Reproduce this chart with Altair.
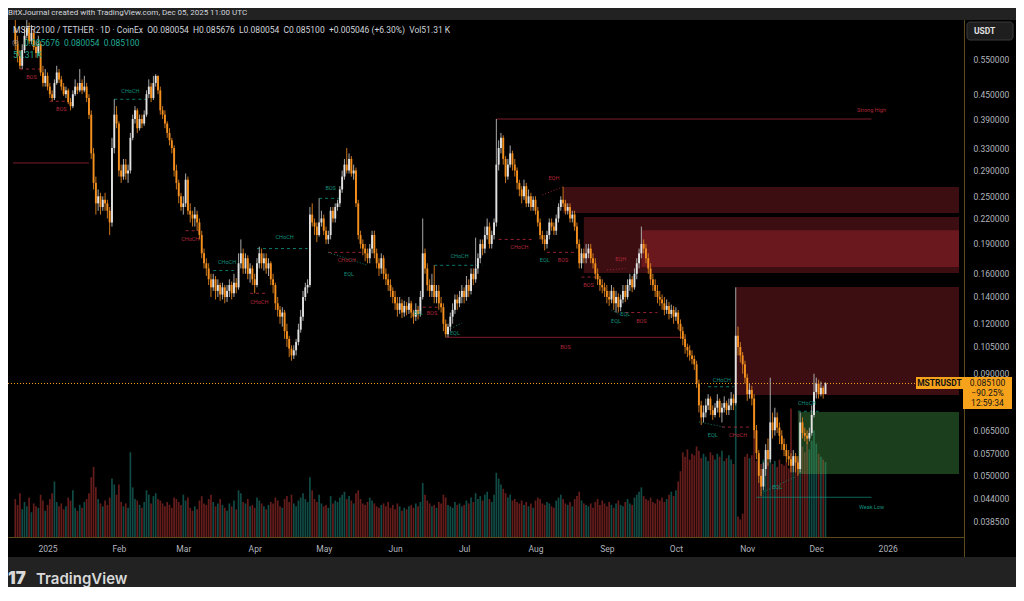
import altair as alt
import pandas as pd

# ---------------- daily candles, MSTR2100 / TETHER (CoinEx), from 2024-12-18 ----------------
first_day = "2024-12-18"
first_open = 0.66

closes = [
    0.60, 0.56, 0.53, 0.58, 0.63, 0.66, 0.61, 0.64, 0.59, 0.57,
    0.60, 0.51, 0.48, 0.50, 0.47, 0.45, 0.44, 0.48, 0.51, 0.49,
    0.47, 0.45, 0.46, 0.43, 0.42, 0.45, 0.47, 0.46, 0.48, 0.46,
    0.47, 0.44, 0.40, 0.32, 0.27, 0.24, 0.25, 0.235, 0.245, 0.24,
    0.23, 0.215, 0.33, 0.40, 0.38, 0.29, 0.28, 0.30, 0.285, 0.29,
    0.35, 0.39, 0.41, 0.37, 0.39, 0.38, 0.40, 0.45, 0.47, 0.44,
    0.48, 0.50, 0.46, 0.41, 0.40, 0.38, 0.36, 0.345, 0.33, 0.29,
    0.27, 0.25, 0.235, 0.24, 0.275, 0.23, 0.225, 0.22, 0.225, 0.215,
    0.20, 0.18, 0.17, 0.165, 0.155, 0.148, 0.155, 0.145, 0.15, 0.142,
    0.148, 0.14, 0.145, 0.15, 0.143, 0.152, 0.148, 0.17, 0.18, 0.165,
    0.175, 0.16, 0.165, 0.155, 0.15, 0.17, 0.18, 0.17, 0.175, 0.165,
    0.17, 0.155, 0.15, 0.135, 0.13, 0.125, 0.128, 0.115, 0.11, 0.104,
    0.10, 0.103, 0.108, 0.116, 0.125, 0.14, 0.148, 0.15, 0.225, 0.215,
    0.21, 0.20, 0.215, 0.22, 0.205, 0.195, 0.20, 0.23, 0.22, 0.235,
    0.24, 0.26, 0.28, 0.30, 0.29, 0.31, 0.285, 0.29, 0.24, 0.20,
    0.19, 0.185, 0.18, 0.175, 0.185, 0.20, 0.18, 0.17, 0.165, 0.175,
    0.16, 0.155, 0.15, 0.145, 0.14, 0.135, 0.13, 0.135, 0.128, 0.133,
    0.13, 0.135, 0.128, 0.125, 0.13, 0.127, 0.14, 0.18, 0.165, 0.15,
    0.145, 0.15, 0.14, 0.145, 0.135, 0.132, 0.12, 0.113, 0.118, 0.125,
    0.13, 0.138, 0.135, 0.14, 0.145, 0.14, 0.15, 0.145, 0.16, 0.155,
    0.165, 0.175, 0.19, 0.185, 0.20, 0.21, 0.19, 0.20, 0.215, 0.30,
    0.33, 0.35, 0.31, 0.28, 0.30, 0.32, 0.30, 0.29, 0.27, 0.26,
    0.25, 0.265, 0.24, 0.25, 0.235, 0.245, 0.23, 0.215, 0.20, 0.195,
    0.19, 0.20, 0.215, 0.21, 0.205, 0.22, 0.235, 0.245, 0.24, 0.23,
    0.235, 0.22, 0.225, 0.21, 0.19, 0.17, 0.18, 0.175, 0.18, 0.185,
    0.175, 0.17, 0.16, 0.155, 0.15, 0.148, 0.145, 0.14, 0.138, 0.145,
    0.135, 0.14, 0.132, 0.138, 0.145, 0.14, 0.15, 0.155, 0.148, 0.16,
    0.17, 0.18, 0.19, 0.185, 0.175, 0.165, 0.155, 0.15, 0.145, 0.14,
    0.138, 0.135, 0.13, 0.133, 0.127, 0.13, 0.125, 0.128, 0.12, 0.115,
    0.11, 0.105, 0.103, 0.10, 0.098, 0.095, 0.085, 0.075, 0.07, 0.072,
    0.075, 0.078, 0.073, 0.071, 0.074, 0.077, 0.072, 0.074, 0.076, 0.073,
    0.075, 0.078, 0.076, 0.112, 0.105, 0.10, 0.095, 0.088, 0.08, 0.082,
    0.078, 0.065, 0.057, 0.05, 0.047, 0.052, 0.058, 0.055, 0.068, 0.065,
    0.07, 0.066, 0.063, 0.06, 0.058, 0.056, 0.055, 0.053, 0.056, 0.054,
    0.052, 0.068, 0.064, 0.063, 0.062, 0.064, 0.071, 0.081, 0.085, 0.08,
    0.083, 0.080054, 0.0851,
]

highs = [
    0.70, 0.63, 0.58, 0.60, 0.66, 0.72, 0.68, 0.67, 0.65, 0.61,
    0.63, 0.61, 0.53, 0.52, 0.51, 0.48, 0.46, 0.49, 0.53, 0.52,
    0.50, 0.48, 0.47, 0.465, 0.44, 0.46, 0.49, 0.48, 0.52, 0.49,
    0.50, 0.48, 0.45, 0.41, 0.33, 0.28, 0.26, 0.255, 0.25, 0.255,
    0.245, 0.235, 0.35, 0.437, 0.42, 0.385, 0.30, 0.31, 0.31, 0.30,
    0.36, 0.40, 0.42, 0.415, 0.40, 0.40, 0.41, 0.46, 0.49, 0.48,
    0.50, 0.505, 0.50, 0.47, 0.42, 0.41, 0.385, 0.37, 0.35, 0.335,
    0.30, 0.275, 0.255, 0.25, 0.285, 0.28, 0.24, 0.23, 0.235, 0.23,
    0.22, 0.205, 0.185, 0.175, 0.17, 0.16, 0.16, 0.158, 0.155, 0.152,
    0.152, 0.15, 0.15, 0.155, 0.153, 0.16, 0.156, 0.18, 0.195, 0.185,
    0.18, 0.178, 0.17, 0.168, 0.16, 0.175, 0.187, 0.185, 0.18, 0.18,
    0.175, 0.172, 0.16, 0.152, 0.14, 0.133, 0.132, 0.13, 0.12, 0.112,
    0.106, 0.106, 0.11, 0.12, 0.13, 0.145, 0.152, 0.155, 0.235, 0.24,
    0.22, 0.215, 0.247, 0.23, 0.225, 0.21, 0.205, 0.235, 0.235, 0.24,
    0.245, 0.265, 0.29, 0.31, 0.33, 0.32, 0.315, 0.30, 0.295, 0.245,
    0.205, 0.195, 0.19, 0.185, 0.19, 0.205, 0.205, 0.185, 0.175, 0.18,
    0.178, 0.165, 0.16, 0.155, 0.148, 0.145, 0.14, 0.14, 0.138, 0.137,
    0.136, 0.14, 0.137, 0.13, 0.135, 0.133, 0.145, 0.22, 0.185, 0.17,
    0.155, 0.16, 0.168, 0.15, 0.15, 0.14, 0.135, 0.123, 0.12, 0.128,
    0.135, 0.142, 0.142, 0.145, 0.15, 0.148, 0.158, 0.155, 0.165, 0.165,
    0.197, 0.18, 0.195, 0.195, 0.21, 0.22, 0.215, 0.205, 0.22, 0.39,
    0.345, 0.36, 0.355, 0.315, 0.31, 0.335, 0.325, 0.31, 0.295, 0.275,
    0.265, 0.275, 0.27, 0.26, 0.255, 0.25, 0.25, 0.235, 0.22, 0.205,
    0.20, 0.205, 0.22, 0.22, 0.215, 0.225, 0.24, 0.25, 0.264, 0.245,
    0.24, 0.24, 0.23, 0.23, 0.215, 0.195, 0.185, 0.185, 0.19, 0.19,
    0.19, 0.18, 0.175, 0.165, 0.158, 0.155, 0.152, 0.15, 0.145, 0.15,
    0.148, 0.145, 0.143, 0.142, 0.15, 0.15, 0.155, 0.16, 0.158, 0.165,
    0.175, 0.185, 0.21, 0.195, 0.19, 0.18, 0.17, 0.16, 0.155, 0.15,
    0.145, 0.142, 0.14, 0.138, 0.136, 0.134, 0.133, 0.132, 0.13, 0.123,
    0.118, 0.113, 0.107, 0.106, 0.103, 0.10, 0.097, 0.087, 0.077, 0.075,
    0.078, 0.08, 0.079, 0.075, 0.076, 0.08, 0.078, 0.076, 0.079, 0.077,
    0.078, 0.081, 0.08, 0.148, 0.118, 0.108, 0.102, 0.097, 0.09, 0.085,
    0.084, 0.08, 0.067, 0.058, 0.052, 0.054, 0.06, 0.062, 0.088, 0.072,
    0.074, 0.072, 0.068, 0.065, 0.062, 0.06, 0.058, 0.057, 0.058, 0.057,
    0.056, 0.072, 0.07, 0.066, 0.065, 0.066, 0.075, 0.09, 0.088, 0.087,
    0.086, 0.084, 0.085676,
]

lows = [
    0.58, 0.54, 0.52, 0.52, 0.57, 0.62, 0.60, 0.60, 0.58, 0.555,
    0.56, 0.50, 0.47, 0.47, 0.46, 0.44, 0.432, 0.435, 0.475, 0.48,
    0.46, 0.445, 0.44, 0.425, 0.41, 0.415, 0.445, 0.45, 0.455, 0.45,
    0.455, 0.43, 0.39, 0.31, 0.26, 0.225, 0.23, 0.225, 0.23, 0.23,
    0.22, 0.20, 0.21, 0.32, 0.37, 0.28, 0.27, 0.275, 0.275, 0.27,
    0.285, 0.345, 0.38, 0.36, 0.365, 0.37, 0.375, 0.395, 0.44, 0.43,
    0.435, 0.47, 0.45, 0.40, 0.39, 0.37, 0.35, 0.335, 0.32, 0.28,
    0.26, 0.24, 0.23, 0.225, 0.235, 0.225, 0.215, 0.21, 0.21, 0.205,
    0.195, 0.175, 0.165, 0.158, 0.15, 0.14, 0.145, 0.138, 0.14, 0.137,
    0.138, 0.135, 0.136, 0.14, 0.138, 0.14, 0.143, 0.146, 0.165, 0.16,
    0.16, 0.155, 0.152, 0.15, 0.143, 0.148, 0.165, 0.165, 0.163, 0.16,
    0.158, 0.15, 0.143, 0.13, 0.125, 0.12, 0.118, 0.11, 0.105, 0.099,
    0.097, 0.098, 0.10, 0.106, 0.114, 0.122, 0.137, 0.143, 0.148, 0.21,
    0.20, 0.192, 0.198, 0.21, 0.20, 0.19, 0.19, 0.195, 0.215, 0.215,
    0.23, 0.235, 0.255, 0.275, 0.285, 0.285, 0.28, 0.275, 0.235, 0.195,
    0.185, 0.178, 0.172, 0.17, 0.17, 0.18, 0.175, 0.165, 0.158, 0.16,
    0.155, 0.15, 0.145, 0.14, 0.135, 0.13, 0.125, 0.127, 0.124, 0.125,
    0.126, 0.127, 0.124, 0.12, 0.122, 0.123, 0.125, 0.138, 0.16, 0.145,
    0.14, 0.14, 0.135, 0.135, 0.13, 0.128, 0.115, 0.111, 0.111, 0.115,
    0.12, 0.127, 0.13, 0.132, 0.135, 0.135, 0.137, 0.14, 0.142, 0.15,
    0.152, 0.16, 0.17, 0.178, 0.18, 0.195, 0.185, 0.185, 0.195, 0.21,
    0.29, 0.32, 0.30, 0.27, 0.275, 0.295, 0.29, 0.28, 0.26, 0.25,
    0.24, 0.245, 0.235, 0.235, 0.23, 0.23, 0.225, 0.21, 0.195, 0.19,
    0.183, 0.185, 0.195, 0.205, 0.20, 0.20, 0.215, 0.23, 0.235, 0.225,
    0.225, 0.215, 0.215, 0.205, 0.185, 0.165, 0.165, 0.17, 0.17, 0.175,
    0.17, 0.165, 0.155, 0.15, 0.145, 0.143, 0.14, 0.135, 0.133, 0.135,
    0.13, 0.128, 0.128, 0.129, 0.135, 0.136, 0.138, 0.145, 0.144, 0.146,
    0.155, 0.165, 0.175, 0.18, 0.17, 0.16, 0.15, 0.145, 0.14, 0.135,
    0.133, 0.13, 0.126, 0.127, 0.123, 0.124, 0.12, 0.122, 0.116, 0.11,
    0.106, 0.101, 0.099, 0.097, 0.095, 0.092, 0.083, 0.072, 0.067, 0.068,
    0.07, 0.073, 0.071, 0.069, 0.07, 0.072, 0.07, 0.068, 0.072, 0.071,
    0.071, 0.073, 0.073, 0.075, 0.10, 0.096, 0.09, 0.085, 0.077, 0.078,
    0.075, 0.062, 0.055, 0.048, 0.0445, 0.046, 0.05, 0.053, 0.054, 0.062,
    0.063, 0.064, 0.06, 0.058, 0.056, 0.054, 0.053, 0.051, 0.051, 0.051,
    0.050, 0.051, 0.062, 0.061, 0.06, 0.061, 0.063, 0.07, 0.078, 0.078,
    0.079, 0.078, 0.080054,
]

# volume in thousands
volumes = [
    26, 22, 30, 19, 24, 21, 27, 17, 23, 21,
    20, 29, 25, 18, 22, 26, 30, 38, 24, 21,
    23, 19, 21, 27, 25, 32, 20, 18, 22, 20,
    24, 26, 30, 41, 48, 34, 26, 23, 21, 25,
    22, 27, 40, 36, 29, 36, 24, 21, 23, 20,
    58, 34, 26, 25, 22, 20, 24, 32, 29, 23,
    28, 30, 26, 25, 23, 21, 24, 22, 20, 27,
    26, 24, 22, 29, 25, 27, 20, 18, 21, 19,
    25, 28, 23, 22, 26, 29, 24, 21, 23, 26,
    22, 20, 18, 23, 21, 25, 19, 32, 30, 24,
    23, 26, 21, 22, 20, 27, 25, 23, 21, 19,
    22, 24, 23, 27, 25, 21, 20, 26, 28, 24,
    29, 23, 21, 25, 27, 30, 26, 24, 41, 32,
    26, 24, 29, 23, 21, 22, 20, 28, 23, 25,
    24, 27, 29, 31, 26, 28, 25, 23, 30, 32,
    26, 23, 22, 24, 27, 25, 23, 21, 20, 22,
    23, 21, 24, 20, 22, 19, 23, 21, 18, 20,
    19, 21, 22, 20, 23, 21, 24, 37, 29, 25,
    23, 21, 22, 20, 24, 23, 29, 27, 22, 21,
    20, 24, 22, 23, 21, 22, 25, 23, 27, 24,
    30, 26, 28, 25, 29, 31, 26, 24, 29, 44,
    40, 36, 33, 30, 27, 29, 25, 26, 24, 23,
    25, 22, 24, 21, 23, 20, 25, 27, 26, 23,
    22, 24, 23, 21, 20, 25, 27, 29, 26, 23,
    22, 24, 21, 26, 28, 31, 25, 23, 22, 21,
    23, 20, 24, 26, 22, 25, 23, 21, 24, 22,
    20, 23, 25, 22, 21, 24, 26, 23, 22, 27,
    29, 31, 34, 28, 26, 25, 27, 24, 23, 26,
    25, 27, 24, 26, 29, 31, 28, 32, 38, 45,
    58, 55, 60, 53, 57, 56, 62, 59, 54, 57,
    55, 52, 58, 56, 53, 57, 55, 59, 52, 54,
    56, 53, 50, 102, 14, 12, 16, 55, 57, 54,
    56, 73, 52, 55, 50, 53, 49, 51, 54, 50,
    52, 48, 53, 50, 49, 51, 47, 88, 55, 52,
    53, 70, 62, 58, 65, 60, 66, 73, 64, 57,
    55, 53, 51.31,
]

# ---------------- smart-money annotations ----------------
zone_from = ["2025-08-13", "2025-08-22", "2025-09-16", "2025-10-27"]
zone_top = [0.2637, 0.2219, 0.2057, 0.1483]
zone_bottom = [0.2270, 0.1607, 0.1664, 0.0796]
demand_from = ["2025-11-23"]
demand_top = [0.0722]
demand_bottom = [0.0505]
zone_to = "2026-02-01"

red_dash_from = ["2024-12-20", "2025-01-02", "2025-03-02", "2025-03-30", "2025-05-03", "2025-06-13",
                 "2025-07-16", "2025-08-06", "2025-08-21", "2025-09-09", "2025-10-21"]
red_dash_to = ["2024-12-29", "2025-01-10", "2025-03-08", "2025-04-06", "2025-05-18", "2025-06-20",
               "2025-07-31", "2025-08-19", "2025-08-28", "2025-09-23", "2025-11-03"]
red_dash_at = [0.52, 0.432, 0.205, 0.143, 0.181, 0.132, 0.195, 0.181, 0.157, 0.128, 0.0662]

green_dash_from = ["2025-01-30", "2025-03-14", "2025-04-02", "2025-04-29", "2025-06-18", "2025-10-15", "2025-11-23"]
green_dash_to = ["2025-02-13", "2025-03-23", "2025-04-24", "2025-05-08", "2025-07-09", "2025-10-26", "2025-12-02"]
green_dash_at = [0.437, 0.163, 0.185, 0.247, 0.168, 0.0835, 0.0725]

solid_from = ["2024-12-17", "2025-06-23", "2025-07-15", "2025-11-05"]
solid_to = ["2025-01-19", "2025-10-05", "2025-12-25", "2025-12-25"]
solid_at = [0.3028, 0.111, 0.39, 0.0442]
solid_kind = ["bear", "bear", "bear", "bull"]

dot_from = ["2025-08-04", "2025-09-01", "2025-05-03", "2025-06-24", "2025-09-03", "2025-10-11", "2025-11-07"]
dot_from_at = [0.252, 0.1635, 0.181, 0.1158, 0.1298, 0.0682, 0.0453]
dot_to = ["2025-08-13", "2025-09-09", "2025-05-20", "2025-06-30", "2025-09-09", "2025-10-22", "2025-11-22"]
dot_to_at = [0.264, 0.165, 0.168, 0.1206, 0.1248, 0.0662, 0.0497]
dot_kind = ["bear", "bear", "bull", "bull", "bull", "bull", "bull"]

tag_date = ["2024-12-25", "2025-01-07", "2025-02-06", "2025-03-04", "2025-03-20", "2025-04-03", "2025-04-14",
            "2025-05-04", "2025-05-11", "2025-05-12", "2025-06-11", "2025-06-17", "2025-06-27", "2025-06-29",
            "2025-08-14", "2025-07-25", "2025-08-09", "2025-08-05", "2025-08-13", "2025-08-24", "2025-09-07",
            "2025-09-05", "2025-09-09", "2025-09-16", "2025-10-21", "2025-10-17", "2025-10-28", "2025-11-27",
            "2025-11-14", "2025-12-25", "2025-12-25"]
tag_at = [0.496, 0.414, 0.458, 0.196, 0.171, 0.136, 0.198,
          0.262, 0.173, 0.160, 0.128, 0.128, 0.114, 0.177,
          0.105, 0.187, 0.277, 0.173, 0.173, 0.150, 0.174,
          0.122, 0.127, 0.122, 0.087, 0.0632, 0.0632, 0.076,
          0.047, 0.411, 0.0419]
tag_text = ["BOS", "BOS", "CHoCH", "CHoCH", "CHoCH", "CHoCH", "CHoCH",
            "BOS", "CHoCH", "EQL", "EQL", "BOS", "EQL", "CHoCH",
            "BOS", "CHoCH", "EQH", "EQL", "BOS", "BOS", "EQH",
            "EQL", "EQL", "BOS", "CHoCH", "EQL", "CHoCH", "CHoCH",
            "EQL", "Strong High", "Weak Low"]
tag_kind = ["bear", "bear", "bull", "bear", "bull", "bear", "bull",
            "bull", "bear", "bull", "bull", "bear", "bull", "bull",
            "bear", "bear", "bear", "bull", "bear", "bear", "bear",
            "bull", "bull", "bear", "bull", "bull", "bear", "bull",
            "bull", "bear", "bull"]

price_ticks = [0.55, 0.45, 0.39, 0.33, 0.29, 0.25, 0.22, 0.19, 0.16, 0.14, 0.12, 0.105,
               0.09, 0.065, 0.057, 0.05, 0.044, 0.0385]
last_price = 0.0851

# ---------------- frames ----------------
n = len(closes)
assert len(highs) == n and len(lows) == n and len(volumes) == n, (n, len(highs), len(lows), len(volumes))
dates = pd.date_range(first_day, periods=n, freq="D").strftime("%Y-%m-%d").tolist()
opens = [first_open] + closes[:-1]
candles = pd.DataFrame({"date": dates, "open": opens, "high": highs, "low": lows,
                        "close": closes, "volume": volumes})

zones = pd.DataFrame({"start": zone_from, "end": [zone_to] * len(zone_from), "top": zone_top, "bottom": zone_bottom})
demand = pd.DataFrame({"start": demand_from, "end": [zone_to], "top": demand_top, "bottom": demand_bottom})
red_dash = pd.DataFrame({"start": red_dash_from, "end": red_dash_to, "at": red_dash_at, "kind": "bear"})
green_dash = pd.DataFrame({"start": green_dash_from, "end": green_dash_to, "at": green_dash_at, "kind": "bull"})
solids = pd.DataFrame({"start": solid_from, "end": solid_to, "at": solid_at, "kind": solid_kind})
dots = pd.DataFrame({"start": dot_from, "end": dot_to, "a": dot_from_at, "b": dot_to_at, "kind": dot_kind})
tags = pd.DataFrame({"date": tag_date, "at": tag_at, "text": tag_text, "kind": tag_kind})
current = pd.DataFrame({"price": [last_price]})
one = pd.DataFrame({"k": [0]})

# ---------------- layout / style ----------------
W, H = 1008, 537          # view: black area
PW, PH = 956, 517         # price/time plotting region inside the view
BEAR, BULL = "#b0283a", "#0f8f7c"
UP, DOWN = "#e2e2e2", "#f5901f"
UP_WICK, DOWN_WICK = "#a8a8a8", "#c8741a"
AXIS_TXT = "#b2b5be"
SEP = "#5c4a1e"
ORANGE = "#f7a21b"
FONT = "Roboto"

x_scale = alt.Scale(type="utc", nice=False, range=[0, PW],
                    domain=[alt.DateTime(year=2024, month=12, date=17, utc=True),
                            alt.DateTime(year=2026, month=2, date=1, utc=True)])
y_scale = alt.Scale(type="log", domain=[0.03516, 0.6897], range=[PH, 0], nice=False)
vol_scale = alt.Scale(type="linear", domain=[0, 100], range=[PH, PH - 146], nice=False, zero=True)
kind_color = alt.Scale(domain=["bear", "bull"], range=[BEAR, BULL])

x_axis = alt.Axis(
    orient="bottom", offset=-(H - PH), tickSize=0, grid=False, title=None,
    values=[alt.DateTime(year=2025, month=m, date=1, utc=True) for m in range(1, 13)]
    + [alt.DateTime(year=2026, month=1, date=1, utc=True)],
    labelExpr="utcFormat(datum.value, '%m') == '01' ? utcFormat(datum.value, '%Y') : utcFormat(datum.value, '%b')",
    domainColor=SEP, labelColor=AXIS_TXT, labelFont=FONT, labelFontSize=8.5, labelPadding=7,
    labelFlush=False, labelOverlap=False,
)
y_axis = alt.Axis(
    orient="right", offset=-(W - PW), tickSize=0, grid=False, title=None, domain=False,
    values=price_ticks, format=".6f", labelColor=AXIS_TXT, labelFont=FONT, labelFontSize=8.5,
    labelPadding=9, labelAlign="left", labelBaseline="middle", labelFlush=False, labelOverlap=False,
)


def X(field):
    return alt.X(field, type="temporal", scale=x_scale, axis=x_axis)


def Y(field, axis=None):
    return alt.Y(field, type="quantitative", scale=y_scale, axis=axis)


updown = lambda a, b: alt.condition("datum.close >= datum.open", alt.value(a), alt.value(b))

# supply zones (overlaps give the brighter band)
supply = alt.Chart(zones).mark_rect(color="#f23645", opacity=0.25).encode(
    x=X("start"), x2="end", y=Y("top"), y2="bottom")

volume = alt.Chart(candles).mark_bar(size=1.7, clip=True).encode(
    x=X("date"), y=alt.Y("volume:Q", scale=vol_scale, axis=None, stack=None),
    color=updown("#26a69a", "#e0403f"), opacity=alt.value(0.45))

demand_zone = alt.Chart(demand).mark_rect(color="#4caf50", opacity=0.36).encode(
    x=X("start"), x2="end", y=Y("top"), y2="bottom")

solid_lines = alt.Chart(solids).mark_rule(strokeWidth=1, opacity=0.7).encode(
    x=X("start"), x2="end", y=Y("at"), color=alt.Color("kind:N", scale=kind_color, legend=None))
red_lines = alt.Chart(red_dash).mark_rule(strokeWidth=1, strokeDash=[3, 3], opacity=0.85).encode(
    x=X("start"), x2="end", y=Y("at"), color=alt.Color("kind:N", scale=kind_color, legend=None))
green_lines = alt.Chart(green_dash).mark_rule(strokeWidth=1, strokeDash=[3, 3], opacity=0.85).encode(
    x=X("start"), x2="end", y=Y("at"), color=alt.Color("kind:N", scale=kind_color, legend=None))
dot_lines = alt.Chart(dots).mark_rule(strokeWidth=1, strokeDash=[1, 2], opacity=0.85).encode(
    x=X("start"), x2="end", y=Y("a"), y2="b", color=alt.Color("kind:N", scale=kind_color, legend=None))

price_line = alt.Chart(current).mark_rule(color=ORANGE, strokeWidth=1, strokeDash=[1, 2]).encode(
    x=alt.value(0), x2=alt.value(PW), y=Y("price"))

wicks = alt.Chart(candles).mark_rule(strokeWidth=1, clip=True).encode(
    x=X("date"), y=Y("low", axis=y_axis), y2="high", color=updown(UP_WICK, DOWN_WICK))
bodies = alt.Chart(candles).mark_bar(size=1.9, clip=True).encode(
    x=X("date"), y=Y("open"), y2="close", color=updown(UP, DOWN))

tag_text_layer = alt.Chart(tags).mark_text(font=FONT, fontSize=5.5, align="center", baseline="middle").encode(
    x=X("date"), y=Y("at"), text="text:N", color=alt.Color("kind:N", scale=kind_color, legend=None))

separator = alt.Chart(one).mark_rule(color=SEP, strokeWidth=1).encode(
    x=alt.value(PW + 0.5), y=alt.value(0), y2=alt.value(H))


def box(x1, x2, y1, y2, fill, radius=0, stroke=None):
    kw = dict(color=fill, cornerRadius=radius)
    if stroke:
        kw.update(stroke=stroke, strokeWidth=1)
    return alt.Chart(one).mark_rect(**kw).encode(
        x=alt.value(x1), x2=alt.value(x2), y=alt.value(y1), y2=alt.value(y2))


def label(text, x, y, size=8.5, color=AXIS_TXT, align="left", weight="normal", font=FONT):
    return alt.Chart(pd.DataFrame({"t": [text]})).mark_text(
        font=font, fontSize=size, color=color, align=align, baseline="middle", fontWeight=weight
    ).encode(x=alt.value(x), y=alt.value(y), text="t:N")


sym_box = box(908, 955, 357, 369, ORANGE)
price_box = box(955, 1004, 357, 389, ORANGE)
usdt_box = box(959, 1005, 2, 20, "#1e1e1e", radius=3, stroke="#3a3a3a")

texts = [
    label("BitXJournal created with TradingView.com, Dec 05, 2025 11:00 UTC", 0, -7, size=8, color="#d1d4dc"),
    label("MSTR2100 / TETHER · 1D · CoinEx\u00a0\u00a0O0.080054\u00a0\u00a0H0.085676\u00a0\u00a0L0.080054"
          "\u00a0\u00a0C0.085100\u00a0\u00a0+0.005046 (+6.30%)\u00a0\u00a0Vol51.31\u00a0K", 5, 10, color="#d1d4dc"),
    label("◎", 4, 23, size=8, color="#9598a1"),
    label("0.085676\u00a0\u00a00.080054\u00a0\u00a00.085100", 16, 23, color="#22ab94"),
    label("51.31\u00a0K", 5, 35, color="#22ab94"),
    label("USDT", 966, 11, size=8.5, color="#e0e0e0", weight="bold"),
    label("MSTRUSDT", 931.5, 363, size=8.5, color="#131313", align="center", weight="bold"),
    label("0.085100", 979.5, 363, size=8.5, color="#131313", align="center"),
    label("\u221290.25%", 979.5, 373, size=8.5, color="#131313", align="center"),
    label("12:59:34", 979.5, 383, size=8.5, color="#131313", align="center"),
    label("17", 0, 559, size=17, color="#d9d9d9", weight=900, font="Inter"),
    label("TradingView", 28, 559, size=15, color="#d9d9d9", weight=600, font="Inter"),
]

chart = alt.layer(
    supply, volume, demand_zone, solid_lines, red_lines, green_lines, dot_lines, price_line,
    wicks, bodies, tag_text_layer, separator, sym_box, price_box, usdt_box, *texts,
).resolve_scale(
    y="independent"
).properties(
    width=W, height=H,
    autosize=alt.AutoSizeParams(type="none"),
    padding={"left": 0, "top": 12, "right": 0, "bottom": 30},
).configure(
    background="#222222"
).configure_view(
    fill="#000000", stroke=None
)

chart.save("out.html", embed_options={"renderer": "svg", "actions": False})
